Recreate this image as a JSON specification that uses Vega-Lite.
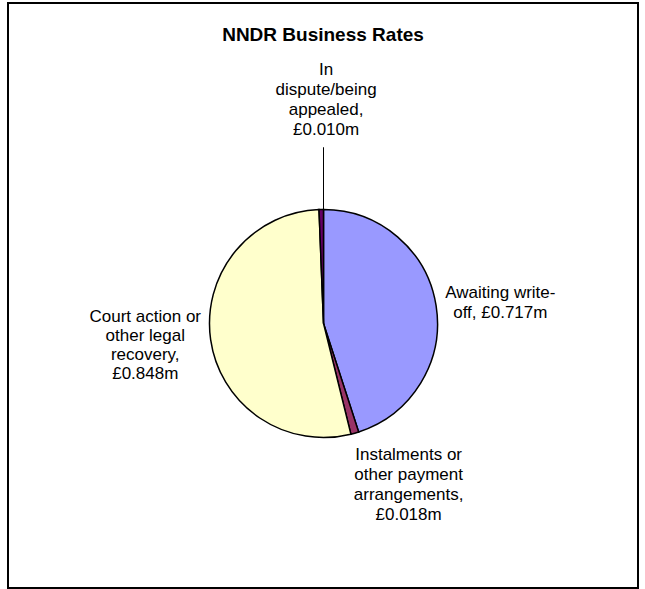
{
  "$schema": "https://vega.github.io/schema/vega-lite/v6.json",
  "width": 630,
  "height": 585,
  "autosize": {"type": "none"},
  "padding": {"left": 8, "top": 3, "right": 7, "bottom": 1},
  "background": "white",
  "view": {"stroke": "black", "strokeWidth": 2, "fill": "white"},
  "title": {"text": "NNDR Business Rates", "font": "Liberation Sans", "fontSize": 19, "fontWeight": "bold", "color": "black", "anchor": "middle", "offset": -42},
  "data": {"values": [
    {"category": "Awaiting write-off", "value": 0.717, "order": 1, "label": "Awaiting write-\noff, £0.717m"},
    {"category": "Instalments or other payment arrangements", "value": 0.018, "order": 2, "label": "Instalments or\nother payment\narrangements,\n£0.018m"},
    {"category": "Court action or other legal recovery", "value": 0.848, "order": 3, "label": "Court action or\nother legal\nrecovery,\n£0.848m"},
    {"category": "In dispute/being appealed", "value": 0.010, "order": 4, "label": "In\ndispute/being\nappealed,\n£0.010m"}
  ]},
  "encoding": {
    "theta": {"field": "value", "type": "quantitative", "stack": true},
    "order": {"field": "order", "type": "quantitative"}
  },
  "layer": [
    {
      "mark": {"type": "arc", "radius": 114, "stroke": "black", "strokeWidth": 1.5, "xOffset": 0.5, "yOffset": 28},
      "encoding": {
        "color": {"field": "category", "type": "nominal", "legend": null,
          "scale": {"domain": ["Awaiting write-off", "Instalments or other payment arrangements", "Court action or other legal recovery", "In dispute/being appealed"],
                    "range": ["#9999FF", "#993366", "#FFFFCC", "#660066"]}}
      }
    },
    {
      "transform": [
        {"stack": "value", "groupby": [], "as": ["v0", "v1"], "sort": [{"field": "order"}]},
        {"filter": "datum.order == 4"}
      ],
      "mark": {"type": "arc", "radius": 176, "radius2": 114, "stroke": "black", "strokeWidth": 1, "fill": null, "xOffset": 0.5, "yOffset": 28},
      "encoding": {
        "theta": {"field": "v1", "type": "quantitative", "stack": null},
        "theta2": {"field": "v1"}
      }
    },
    {
      "mark": {"type": "text", "radius": 178, "dx": 1, "dy": -3, "xOffset": 0.5, "yOffset": 28, "font": "Liberation Sans", "fontSize": 17, "lineHeight": 20, "lineBreak": "\n", "align": "center", "baseline": "middle", "color": "black"},
      "encoding": {"text": {"condition": {"test": "datum.order == 1", "field": "label"}, "value": ""}}
    },
    {
      "mark": {"type": "text", "radius": 168, "dx": 39, "dy": -30, "xOffset": 0.5, "yOffset": 28, "font": "Liberation Sans", "fontSize": 17, "lineHeight": 20, "lineBreak": "\n", "align": "center", "baseline": "middle", "color": "black"},
      "encoding": {"text": {"condition": {"test": "datum.order == 2", "field": "label"}, "value": ""}}
    },
    {
      "mark": {"type": "text", "radius": 178, "dx": -2, "dy": -32, "xOffset": 0.5, "yOffset": 28, "font": "Liberation Sans", "fontSize": 17, "lineHeight": 19, "lineBreak": "\n", "align": "center", "baseline": "middle", "color": "black"},
      "encoding": {"text": {"condition": {"test": "datum.order == 3", "field": "label"}, "value": ""}}
    },
    {
      "mark": {"type": "text", "radius": 224, "dx": 7, "dy": -30, "xOffset": 0.5, "yOffset": 28, "font": "Liberation Sans", "fontSize": 17, "lineHeight": 20, "lineBreak": "\n", "align": "center", "baseline": "middle", "color": "black"},
      "encoding": {"text": {"condition": {"test": "datum.order == 4", "field": "label"}, "value": ""}}
    }
  ]
}
